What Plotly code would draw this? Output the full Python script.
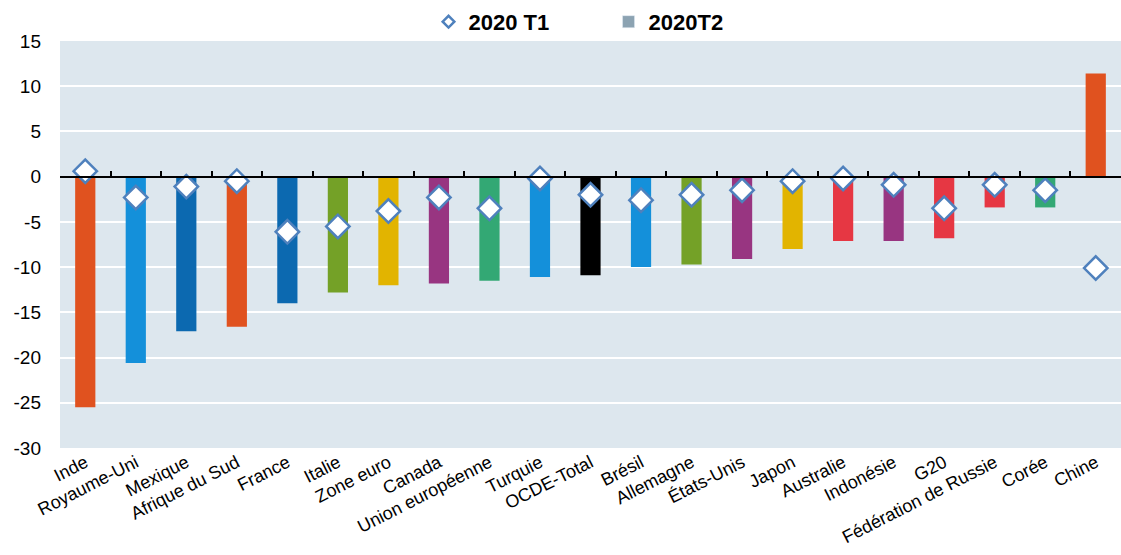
import plotly.graph_objects as go

categories = ["Inde", "Royaume-Uni", "Mexique", "Afrique du Sud", "France", "Italie",
              "Zone euro", "Canada", "Union européenne", "Turquie", "OCDE-Total",
              "Brésil", "Allemagne", "États-Unis", "Japon", "Australie", "Indonésie",
              "G20", "Fédération de Russie", "Corée", "Chine"]
t2_values = [-25.5, -20.6, -17.1, -16.6, -14.0, -12.8, -12.0, -11.8, -11.5, -11.1,
             -10.9, -10.0, -9.7, -9.1, -8.0, -7.1, -7.1, -6.8, -3.4, -3.4, 11.4]
t1_values = [0.6, -2.3, -1.1, -0.5, -6.1, -5.5, -3.8, -2.3, -3.5, -0.2, -2.0,
             -2.6, -2.0, -1.5, -0.5, -0.2, -0.9, -3.5, -0.9, -1.5, -10.1]
bar_colors = ["#E0521F", "#1490DA", "#0C69B0", "#E0521F", "#0C69B0", "#74A127",
              "#E2B400", "#983581", "#33A874", "#1490DA", "#000000", "#1490DA",
              "#74A127", "#983581", "#E2B400", "#E63743", "#983581", "#E63743",
              "#E63743", "#33A874", "#E0521F"]
y_ticks = [15, 10, 5, 0, -5, -10, -15, -20, -25, -30]
y_tick_text = ["15", "10", "5", "0", "-5", "-10", "-15", "-20", "-25", "-30"]

FONT = "Liberation Sans, Arial, sans-serif"

fig = go.Figure()

fig.add_trace(go.Bar(
    x=categories, y=t2_values, marker=dict(color=bar_colors, line=dict(width=0)),
    width=0.4, showlegend=False, name="2020T2"))

fig.add_trace(go.Scatter(
    x=categories, y=t1_values, mode="markers", name="2020 T1", showlegend=False,
    marker=dict(symbol="diamond", size=18, color="white",
                line=dict(color="#4F81BD", width=2.5))))

# legend-only entries
fig.add_trace(go.Scatter(
    x=[categories[0]], y=[None], mode="markers", name="2020 T1",
    marker=dict(symbol="diamond", size=9, color="white",
                line=dict(color="#4F81BD", width=2.5))))
fig.add_trace(go.Bar(
    x=[categories[0]], y=[None], name="2020T2",
    marker=dict(color="#8CA3B2"), showlegend=True))

# invisible trace to build the zero axis with boundary ticks
fig.add_trace(go.Scatter(
    x=categories, y=[0] * len(categories), xaxis="x2", mode="markers",
    marker=dict(opacity=0), showlegend=False, hoverinfo="skip"))

fig.update_layout(
    width=1121, height=555,
    margin=dict(l=60, r=0, t=41, b=107, autoexpand=False),
    paper_bgcolor="white", plot_bgcolor="#DDE7EE",
    barmode="overlay",
    font=dict(family=FONT, color="black"),
    legend=dict(orientation="h", x=0.517, xanchor="center", y=1.047, yanchor="middle",
                font=dict(size=22, family=FONT, weight="bold"),
                tracegroupgap=0, entrywidth=135, bgcolor="rgba(0,0,0,0)"),
    xaxis=dict(type="category", categoryarray=categories, range=[-0.5, 20.5],
               showgrid=False, zeroline=False, showline=False, ticks="",
               automargin=False,
               tickangle=-27, tickfont=dict(size=18, family=FONT)),
    xaxis2=dict(type="category", categoryarray=categories, overlaying="x",
                matches="x", anchor="free", position=30 / 45, side="bottom",
                showline=True, linecolor="black", linewidth=2, automargin=False,
                ticks="inside", tickson="boundaries", ticklen=5, tickwidth=2,
                tickcolor="black", showticklabels=False, showgrid=False),
    yaxis=dict(range=[-30, 15], tickvals=y_ticks, ticktext=y_tick_text,
               showgrid=True, automargin=False,
               gridcolor="white", gridwidth=2, zeroline=False, showline=False,
               ticks="", ticklabelstandoff=18, tickfont=dict(size=19, family=FONT)),
)

fig.write_html(
    "out.html",
    config={"displayModeBar": False},
    post_script="document.body.style.margin='0';document.body.style.overflow='hidden';",
)
